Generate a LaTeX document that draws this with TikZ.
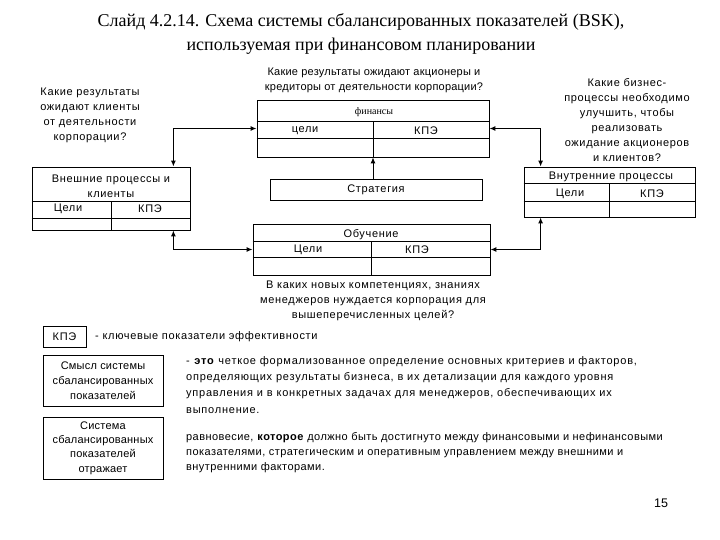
\documentclass[tikz,border=0pt]{standalone}
\usepackage{fontspec}
\setmainfont{Liberation Sans}
\newfontfamily\seriffont{Liberation Serif}
\usetikzlibrary{arrows.meta, positioning, calc}

\begin{document}
\begin{tikzpicture}[x=1pt, y=-1pt, font=\fontsize{11}{15}\selectfont\addfontfeature{LetterSpace=6},
        tbl/.style={rectangle, draw, line width=0.8pt, inner sep=0pt},
        lbl/.style={inner sep=0pt, align=center},
        para/.style={inner sep=0pt, align=left, anchor=north west},
        conn/.style={line width=1.6pt, {Latex[length=6pt,width=5pt]}-{Latex[length=6pt,width=5pt]}},
        arr/.style={line width=0.8pt, -{Latex[length=6pt,width=5pt]}}
    ]
    \useasboundingbox (0,0) rectangle (720,540);

    % title
    \node[lbl, font=\seriffont\fontsize{18}{24}\selectfont] (title) at (361,34)
        {Слайд 4.2.14. Схема системы сбалансированных показателей (BSK),\\
         используемая при финансовом планировании};

    % questions
    \node[lbl] (qcli) at (90,115.5) {Какие результаты\\ожидают клиенты\\от деятельности\\корпорации?};
    \node[lbl, font=\fontsize{11}{15}\selectfont\addfontfeature{LetterSpace=2}] (qfin) at (374,80.5)
        {Какие результаты ожидают акционеры и\\кредиторы от деятельности корпорации?};
    \node[lbl] (qint) at (627,120) {Какие бизнес-\\процессы необходимо\\улучшить, чтобы\\реализовать\\ожидание акционеров\\и клиентов?};
    \node[lbl] (qobu) at (373,301) {В каких новых компетенциях, знаниях\\менеджеров нуждается корпорация для\\вышеперечисленных целей?};

    % finance table
    \node[tbl, minimum width=232pt, minimum height=57pt] (fin) at (373,128.5) {};
    \draw[line width=0.8pt] ([yshift=-22pt]fin.north west) -- ([yshift=-22pt]fin.north east);
    \draw[line width=0.8pt] ([yshift=-39pt]fin.north west) -- ([yshift=-39pt]fin.north east);
    \draw[line width=0.8pt] ([yshift=-22pt]fin.north) -- (fin.south);
    \node[lbl, font=\seriffont\fontsize{10}{12}\selectfont] at (374,112) {финансы};
    \node[lbl] at (305,131) {цели};
    \node[lbl] at (426,131) {КПЭ};

    % external processes table
    \node[tbl, minimum width=158pt, minimum height=63pt] (ext) at (111,198.5) {};
    \draw[line width=0.8pt] ([yshift=-35pt]ext.north west) -- ([yshift=-35pt]ext.north east);
    \draw[line width=0.8pt] ([yshift=-52pt]ext.north west) -- ([yshift=-52pt]ext.north east);
    \draw[line width=0.8pt] ([yshift=-35pt]ext.north) -- (ext.south);
    \node[lbl] at (111,186.5) {Внешние процессы и\\клиенты};
    \node[lbl] at (68,208.5) {Цели};
    \node[lbl] at (150,208.5) {КПЭ};

    % internal processes table
    \node[tbl, minimum width=171pt, minimum height=50pt] (int) at (609.5,192) {};
    \draw[line width=0.8pt] ([yshift=-17pt]int.north west) -- ([yshift=-17pt]int.north east);
    \draw[line width=0.8pt] ([yshift=-35pt]int.north west) -- ([yshift=-35pt]int.north east);
    \draw[line width=0.8pt] ([yshift=-17pt]int.north) -- (int.south);
    \node[lbl] at (611,176.5) {Внутренние процессы};
    \node[lbl] at (570,193.5) {Цели};
    \node[lbl] at (652,193.5) {КПЭ};

    % strategy
    \node[tbl, minimum width=212pt, minimum height=21pt] (strat) at (376,189.5) {Стратегия};

    % learning table
    \node[tbl, minimum width=237pt, minimum height=51pt] (obu) at (371.5,249.5) {};
    \draw[line width=0.8pt] ([yshift=-18pt]obu.north west) -- ([yshift=-18pt]obu.north east);
    \draw[line width=0.8pt] ([yshift=-34pt]obu.north west) -- ([yshift=-34pt]obu.north east);
    \draw[line width=0.8pt] ([yshift=-18pt]obu.north) -- (obu.south);
    \node[lbl] at (371,235) {Обучение};
    \node[lbl] at (308,250) {Цели};
    \node[lbl] at (417,250) {КПЭ};

    % connectors
    \draw[conn] (fin.west) -| ([xshift=-17pt]ext.north east);
    \draw[conn] (fin.east) -| ([xshift=17pt]int.north west);
    \draw[conn] ([xshift=-17pt]ext.south east) |- (obu.west);
    \draw[conn] ([xshift=17pt]int.south west) |- (obu.east);
    \draw[arr] (strat.north -| fin.south) -- (fin.south);

    % legend and definitions
    \node[tbl, minimum width=43pt, minimum height=21pt] (kpe) at (64.5,336.5) {КПЭ};
    \node[lbl, anchor=west] (kpetxt) at (95,337) {- ключевые показатели эффективности};

    \node[tbl, minimum width=120pt, minimum height=51pt, align=center,
          font=\fontsize{11}{15}\selectfont\addfontfeature{LetterSpace=2}] (smysl) at (103,380.5)
        {Смысл системы\\сбалансированных\\показателей};
    \node[para, font=\fontsize{11}{16.3}\selectfont\addfontfeature{LetterSpace=7}] (smysltxt) at (186,356)
        {- \textbf{это} четкое формализованное определение основных критериев и факторов,\\
         определяющих результаты бизнеса, в их детализации для каждого уровня\\
         управления и в конкретных задачах для менеджеров, обеспечивающих их\\
         выполнение.};

    \node[tbl, minimum width=120pt, minimum height=62pt, align=center,
          font=\fontsize{11}{14.3}\selectfont\addfontfeature{LetterSpace=2}] (sist) at (103,448)
        {Система\\сбалансированных\\показателей\\отражает};
    \node[para, font=\fontsize{11}{15}\selectfont\addfontfeature{LetterSpace=4}] (sisttxt) at (186,432)
        {равновесие, \textbf{которое} должно быть достигнуто между финансовыми и нефинансовыми\\
         показателями, стратегическим и оперативным управлением между внешними и\\
         внутренними факторами.};

    \node[lbl, font=\fontsize{12.5}{14}\selectfont] (page) at (661,503) {15};
\end{tikzpicture}
\end{document}
